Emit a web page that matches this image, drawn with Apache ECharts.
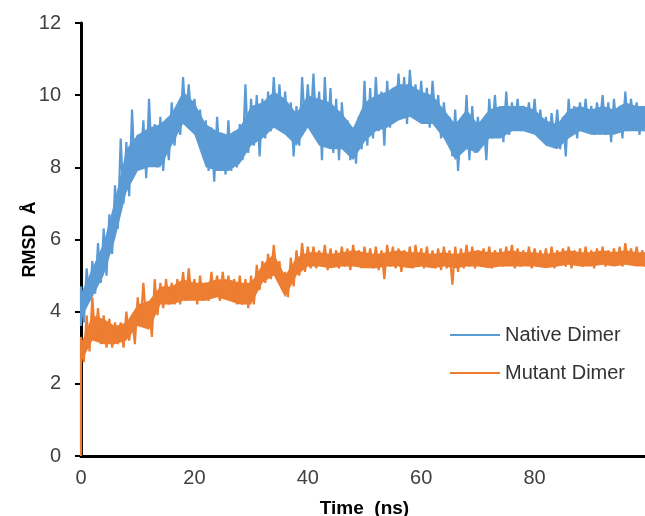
<!DOCTYPE html>
<html>
<head>
<meta charset="utf-8">
<script src="https://cdn.jsdelivr.net/npm/echarts@6/dist/echarts.min.js"></script>
<style>html,body{margin:0;padding:0;background:#fff}#c{width:645px;height:516px}</style>
</head>
<body>
<div id="c"></div>
<script>
// X tick labels shown (0..80), y ticks 0..12
const xTicks = [0, 20, 40, 60, 80];
const yTicks = [0, 2, 4, 6, 8, 10, 12];
const seriesNames = ['Native Dimer', 'Mutant Dimer'];
const colors = ['#5B9BD5', '#ED7D31'];

// Start values at t = 0
const nativeStart = 3.6;
const mutantStart = 0;

// Spike extremes: upper at t = 0,1,...,99 ns ; lower at t = 0.5,1.5,...,99.5 ns
const nativeHi = [4.7,5.2,5.4,5.9,6.3,6.7,7.5,8.8,8.7,9.6,
  8.9,9.3,9.9,9.2,9.4,9.0,9.8,9.7,10.5,10.3,
  9.9,9.6,9.3,9.1,9.4,8.9,9.3,9.0,9.2,10.3,
  9.9,10.0,9.9,10.1,10.5,10.3,10.1,9.8,9.7,10.5,
  10.3,10.6,10.1,10.5,10.2,9.9,9.8,9.3,9.1,9.4,
  10.4,10.2,10.5,10.1,10.4,10.2,10.6,10.5,10.7,10.3,
  10.4,10.2,10.4,10.0,9.8,9.4,9.6,9.2,10.0,9.7,
  9.4,9.2,9.9,10.0,9.7,10.1,9.8,9.9,9.7,9.8,
  9.9,9.6,9.4,9.5,9.6,9.4,9.9,9.7,9.8,9.9,
  9.7,9.8,10.0,9.8,9.9,9.7,10.1,9.9,9.8,9.7];
const nativeLo = [3.7,4.3,4.5,4.8,5.0,5.6,6.3,7.0,7.2,7.8,
  8.0,7.7,8.1,8.0,7.9,8.2,8.6,8.9,9.3,9.2,
  9.0,8.4,7.9,7.6,8.1,7.8,7.9,8.0,8.2,8.4,
  8.6,8.3,8.8,9.0,9.1,9.0,8.9,8.3,8.6,9.1,
  9.2,9.0,8.2,8.8,8.4,8.2,8.7,8.2,8.1,8.5,
  8.6,8.8,9.0,8.6,9.1,9.3,9.4,9.2,9.6,9.3,
  9.2,9.1,9.3,8.8,8.9,8.3,7.9,8.5,8.2,8.4,
  8.6,8.2,8.8,8.9,8.7,8.9,9.1,9.0,9.2,9.0,
  8.9,8.8,8.6,8.7,8.5,8.3,8.9,8.8,9.1,9.0,
  8.9,9.2,8.9,8.7,9.0,8.8,9.0,9.2,8.9,9.0];

const mutantHi = [3.3,3.9,4.4,4.1,3.9,3.8,3.7,3.7,4.0,3.9,
  4.4,4.8,4.2,4.9,4.8,4.9,4.8,4.9,5.1,5.2,
  4.9,5.0,4.8,5.1,5.0,5.1,5.0,4.9,5.0,4.9,
  5.0,5.3,5.4,5.6,5.85,5.4,5.1,5.5,5.7,5.9,
  5.8,5.8,5.7,5.85,5.75,5.7,5.8,5.75,5.85,5.7,
  5.8,5.75,5.8,5.7,5.85,5.8,5.75,5.7,5.8,5.85,
  5.75,5.8,5.7,5.75,5.8,5.7,5.8,5.75,5.85,5.8,
  5.7,5.75,5.8,5.7,5.75,5.8,5.85,5.75,5.7,5.8,
  5.75,5.7,5.75,5.8,5.7,5.75,5.8,5.7,5.75,5.8,
  5.7,5.75,5.8,5.7,5.75,5.8,5.9,5.75,5.8,5.7];
const mutantLo = [2.6,2.9,3.2,3.1,3.0,3.0,3.1,3.0,3.2,3.1,
  3.6,3.7,3.3,3.9,4.1,4.2,4.2,4.2,4.3,4.4,
  4.2,4.3,4.3,4.4,4.3,4.4,4.3,4.2,4.2,4.1,
  4.2,4.6,4.8,4.9,5.0,4.6,4.4,4.7,5.0,5.1,
  5.2,5.2,5.25,5.15,5.3,5.2,5.25,5.15,5.3,5.2,
  5.25,5.2,5.15,4.9,5.25,5.2,5.1,5.3,5.2,5.25,
  5.2,5.25,5.2,5.15,5.2,4.75,5.1,5.2,5.25,5.2,
  5.3,5.25,5.2,5.3,5.25,5.3,5.2,5.25,5.3,5.2,
  5.25,5.3,5.25,5.2,5.3,5.25,5.2,5.3,5.25,5.3,
  5.2,5.3,5.25,5.35,5.3,5.25,5.3,5.35,5.3,5.25];

// Solid core of each band, read every 2 ns (t = 0,2,...,98)
const nativeCoreTop = [4.5,5.2,5.9,7.1,8.5,8.9,9.1,9.2,9.5,10.1,
  9.8,9.2,9.0,8.9,9.1,9.7,9.8,10.1,9.9,9.5,
  10.0,9.9,9.8,9.5,9.1,9.8,10.0,10.1,10.3,10.3,
  10.1,10.0,9.6,9.2,9.6,9.2,9.6,9.7,9.7,9.7,
  9.6,9.3,9.2,9.6,9.7,9.6,9.7,9.6,9.8,9.7];
const nativeCoreBot = [3.8,4.4,5.0,6.0,7.3,7.9,8.0,8.0,8.6,9.2,
  8.9,8.0,7.9,7.9,8.1,8.6,8.8,9.1,8.9,8.6,
  9.1,8.6,8.5,8.5,8.2,8.7,9.0,9.1,9.3,9.4,
  9.2,9.2,8.8,8.2,8.5,8.4,8.8,8.8,9.0,9.0,
  8.9,8.6,8.5,8.8,9.0,8.9,8.9,8.9,9.0,9.0];
const mutantCoreTop = [3.1,3.9,3.8,3.6,3.7,4.2,4.3,4.7,4.7,4.9,
  4.8,4.8,4.9,4.9,4.8,4.8,5.3,5.6,5.0,5.5,
  5.65,5.65,5.6,5.65,5.7,5.65,5.6,5.65,5.7,5.65,
  5.65,5.6,5.65,5.6,5.65,5.7,5.65,5.65,5.7,5.65,
  5.65,5.6,5.65,5.7,5.65,5.65,5.7,5.65,5.7,5.65];
const mutantCoreBot = [2.6,3.2,3.1,3.1,3.2,3.6,3.5,4.2,4.2,4.3,
  4.3,4.3,4.4,4.3,4.2,4.2,4.8,5.0,4.4,5.0,
  5.25,5.25,5.2,5.25,5.25,5.2,5.2,5.25,5.25,5.2,
  5.25,5.2,5.25,5.2,5.25,5.25,5.2,5.25,5.25,5.25,
  5.25,5.2,5.25,5.3,5.25,5.25,5.3,5.25,5.3,5.25];

function build(start, hi, lo) {
  const d = [[0, start]];
  for (let i = 0; i < hi.length; i++) {
    d.push([i, hi[i]]);
    d.push([i + 0.5, lo[i]]);
  }
  return d;
}

// Filled core band between the core-top and core-bottom polylines
function coreSeries(top, bot, color) {
  return {
    type: 'custom', silent: true, clip: true, z: 1,
    data: [[0]],
    renderItem: function (params, api) {
      const pts = [];
      for (let i = 0; i < top.length; i++) pts.push(api.coord([i * 2, top[i]]));
      pts.push(api.coord([99.5, top[top.length - 1]]));
      pts.push(api.coord([99.5, bot[bot.length - 1]]));
      for (let i = bot.length - 1; i >= 0; i--) pts.push(api.coord([i * 2, bot[i]]));
      return {type: 'polygon', shape: {points: pts}, style: {fill: color}};
    }
  };
}

const chart = echarts.init(document.getElementById('c'), null, {renderer: 'canvas'});
const font = '"Liberation Sans", Arial, sans-serif';
chart.setOption({
  animation: false,
  backgroundColor: '#ffffff',
  grid: {left: 81, top: 23, right: -3, bottom: 60, containLabel: false, outerBoundsMode: 'none'},
  legend: {
    orient: 'vertical', left: 450, top: 324, padding: 0, itemWidth: 50, itemHeight: 2, itemGap: 16,
    icon: 'rect',
    textStyle: {fontFamily: font, fontSize: 20, color: '#333333', lineHeight: 22},
    data: seriesNames
  },
  xAxis: {
    type: 'value', min: 0, max: 100, interval: 20,
    name: 'Time  (ns)', nameLocation: 'middle', nameGap: 43, nameMoveOverlap: false,
    nameTextStyle: {fontFamily: font, fontSize: 19, fontWeight: 'bold', color: '#000'},
    axisLine: {show: true, lineStyle: {color: '#000', width: 3}},
    axisTick: {show: false},
    splitLine: {show: false},
    axisLabel: {margin: 12, fontFamily: font, fontSize: 20, color: '#404040',
      formatter: v => (xTicks.indexOf(v) >= 0 ? String(v) : '')}
  },
  yAxis: {
    type: 'value', min: 0, max: 12, interval: 2,
    name: 'RMSD  Å', nameLocation: 'middle', nameGap: 42, nameMoveOverlap: false,
    nameTextStyle: {fontFamily: font, fontSize: 18, fontWeight: 'bold', color: '#000'},
    axisLine: {show: true, lineStyle: {color: '#000', width: 3}},
    axisTick: {show: true, inside: false, length: 6, lineStyle: {color: '#000', width: 2}},
    splitLine: {show: false},
    axisLabel: {margin: 20, fontFamily: font, fontSize: 20, color: '#404040',
      formatter: v => (yTicks.indexOf(v) >= 0 ? String(v) : '')}
  },
  series: [
    coreSeries(nativeCoreTop, nativeCoreBot, colors[0]),
    coreSeries(mutantCoreTop, mutantCoreBot, colors[1]),
    {name: seriesNames[0], type: 'line', showSymbol: false, symbol: 'none', z: 2,
     lineStyle: {color: colors[0], width: 2.2}, itemStyle: {color: colors[0]},
     data: build(nativeStart, nativeHi, nativeLo)},
    {name: seriesNames[1], type: 'line', showSymbol: false, symbol: 'none', z: 2,
     lineStyle: {color: colors[1], width: 2.2}, itemStyle: {color: colors[1]},
     data: build(mutantStart, mutantHi, mutantLo)}
  ]
});
</script>
</body>
</html>
